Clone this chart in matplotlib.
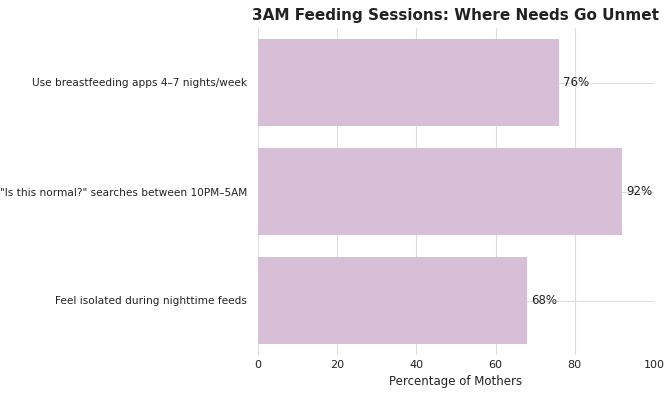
import matplotlib
matplotlib.use("Agg")
import matplotlib.pyplot as plt

categories = [
    "Use breastfeeding apps 4\u20137 nights/week",
    "\"Is this normal?\" searches between 10PM\u20135AM",
    "Feel isolated during nighttime feeds",
]
values = [76, 92, 68]
xticks = [0, 20, 40, 60, 80, 100]

fig = plt.figure(figsize=(6.69, 4.0), dpi=100)
ax = fig.add_axes([258 / 669, 45 / 400, 396 / 669, 327 / 400])

ypos = list(range(len(categories)))
ax.barh(ypos, values, height=0.8, color="#D8BFD8", zorder=2)
for y, v in zip(ypos, values):
    ax.text(v + 1, y, f"{v}%", va="center", ha="left", fontsize=8.5, color="#222222")

ax.set_yticks(ypos)
ax.set_yticklabels(categories, fontsize=7.6, color="#222222")
ax.set_ylim(2.5, -0.5)
ax.set_xlim(0, 100)
ax.set_xticks(xticks)
ax.tick_params(axis="x", labelsize=8, colors="#222222", length=0)
ax.tick_params(axis="y", length=0, pad=8)
ax.set_xlabel("Percentage of Mothers", fontsize=8.5, color="#222222")
ax.grid(True, color="#dddddd", linewidth=0.8, zorder=0)
ax.set_axisbelow(True)
for s in ax.spines.values():
    s.set_visible(False)
ax.set_title("3AM Feeding Sessions: Where Needs Go Unmet", fontsize=11,
             fontweight="bold", color="#222222", pad=6)

fig.savefig("out.png", dpi=100)
